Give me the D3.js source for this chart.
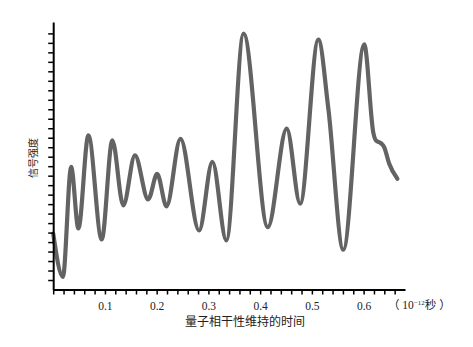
<!DOCTYPE html>
<html><head><meta charset="utf-8">
<script src="https://cdn.jsdelivr.net/npm/d3@7"></script>
<style>
html,body{margin:0;padding:0;background:#fff;}
text{font-family:"Liberation Serif","Noto Sans CJK SC",serif;}
</style></head>
<body><svg id="c" width="473" height="347"></svg>
<script>
// data (time in 1e-12 s, signal in arbitrary units)
const times = [0.000,0.0187,0.0347,0.0487,0.068,0.0938,0.1143,0.1355,0.158,0.1836,0.201,0.219,0.246,0.282,0.3077,0.3347,0.368,0.4148,0.4514,0.4773,0.5125,0.5318,0.5607,0.6012,0.619,0.6237,0.6333,0.6397,0.6493,0.6653];
const signal = [5.9,1.32,12.92,6.43,16.24,5.27,15.72,8.86,14.14,9.49,12.18,8.76,15.88,6.22,13.45,5.17,26.97,6.57,16.95,9.04,26.34,19.09,4.19,25.84,16.46,15.72,15.43,15.01,13.29,11.68];
const xTickValues = d3.range(0, 34).map(i => +(i*0.02).toFixed(2));
const xTickLabels = ["0.1","0.2","0.3","0.4","0.5","0.6"];
const yTickValues = d3.range(1, 28);
const xTitle = "量子相干性维持的时间";
const yTitle = "信号强度";

const svg = d3.select("#c");
const x = d3.scaleLinear().domain([0, 0.68]).range([53.2, 405]);
const y = d3.scaleLinear().domain([0, 28.2]).range([289.5, 22]);

// curve
const line = d3.line().x((d,i)=>x(times[i])).y((d,i)=>y(d)).curve(d3.curveMonotoneX);
svg.append("path").attr("d", line(signal))
  .attr("fill","none").attr("stroke","#636363").attr("stroke-width",4.2)
  .attr("stroke-linejoin","round").attr("stroke-linecap","round");

// x axis
const xa = svg.append("g").attr("transform",`translate(0,${y(0)})`)
  .call(d3.axisBottom(x).tickValues(xTickValues).tickSize(5).tickSizeOuter(0)
    .tickFormat(d => { const s = d.toFixed(1); return (Math.abs(d*10 - Math.round(d*10))<1e-6 && xTickLabels.includes(s)) ? s : ""; }));
xa.select(".domain").attr("stroke","#000").attr("stroke-width",2);
xa.selectAll(".tick line").attr("stroke","#000").attr("stroke-width",1.5);
xa.selectAll(".tick text").attr("font-size",11.5).attr("fill","#222").attr("dy","1.05em")
  .style("font-family","'Liberation Serif',serif");

// y axis
const ya = svg.append("g").attr("transform",`translate(${x(0)},0)`)
  .call(d3.axisLeft(y).tickValues(yTickValues).tickSize(5).tickSizeOuter(0).tickFormat(""));
ya.select(".domain").attr("stroke","#000").attr("stroke-width",2);
ya.selectAll(".tick line").attr("stroke","#000").attr("stroke-width",1.5);

// unit label
const u = svg.append("text").attr("x",388).attr("y",309).attr("font-size",11.5).attr("fill","#222");
u.append("tspan").text("（ 10");
u.append("tspan").text("−12").attr("font-size",7).attr("dy",-4);
u.append("tspan").text("秒 ）").attr("dy",4);

// titles
svg.append("text").attr("x",245).attr("y",326).attr("text-anchor","middle")
  .attr("font-size",12).attr("fill","#222").text(xTitle);
svg.append("text").attr("transform","translate(37,158) rotate(-90)").attr("text-anchor","middle")
  .attr("font-size",10).attr("fill","#222").text(yTitle);
</script></body></html>
